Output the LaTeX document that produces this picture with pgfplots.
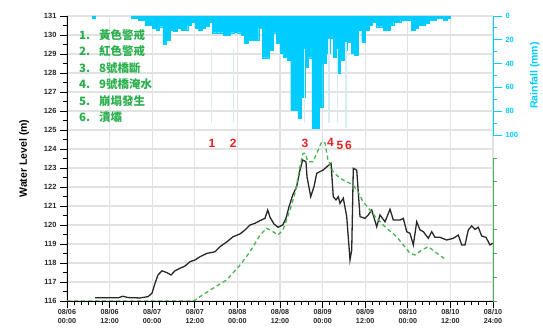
\documentclass[border=0pt]{standalone}
\usepackage{pgfplots}
\pgfplotsset{compat=1.18}
\usepackage{fontspec}
\setmainfont{Liberation Sans}
\newfontfamily\cjk{Noto Sans CJK TC}
\definecolor{rain}{RGB}{0,204,255}
\definecolor{lgreen}{RGB}{70,180,80}
\definecolor{legtext}{RGB}{40,175,75}
\definecolor{gridc}{RGB}{226,226,226}
\definecolor{evred}{RGB}{235,30,35}
\definecolor{evline}{RGB}{212,236,242}
\definecolor{wl}{RGB}{40,40,40}

\begin{document}
\begin{tikzpicture}[x=1pt,y=1pt]
\useasboundingbox (0,0) rectangle (543,329);

% ---------- main water level axis ----------
\begin{axis}[
  at={(67pt,28pt)}, anchor=south west, scale only axis,
  width=426pt, height=285pt,
  xmin=0, xmax=120, ymin=116, ymax=131,
  axis x line*=bottom, axis y line*=left,
  axis line style={black, line width=0.8pt},
  xtick={0,12,...,120},
  xticklabels={{08/06\\00:00},{08/06\\12:00},{08/07\\00:00},{08/07\\12:00},{08/08\\00:00},{08/08\\12:00},{08/09\\00:00},{08/09\\12:00},{08/10\\00:00},{08/10\\12:00},{08/10\\24:00}},
  xticklabel style={align=center, font=\bfseries\fontsize{7.2}{8.6}\selectfont, text=black!85, inner sep=1pt},
  minor x tick num=5,
  ytick={116,...,131}, minor y tick num=1,
  yticklabel style={font=\bfseries\fontsize{7.5}{8}\selectfont, text=black!85},
  /pgf/number format/assume math mode=true,
  grid=major, major grid style={gridc, line width=1.2pt},
  tick align=outside, major tick length=7pt, minor tick length=4pt,
  tick style={black, line width=0.7pt},
  ylabel={Water Level (m)},
  ylabel shift=8pt,
  ylabel style={font=\bfseries\fontsize{10.5}{12}\selectfont},
]
% black water level
\addplot[wl, line width=1.3pt] coordinates {
(7.89,116.17) (14.45,116.17) (15.77,116.25) (17.18,116.18) (20.56,116.16) (22.82,116.23)
(23.94,116.41) (24.79,116.93) (25.63,117.37) (26.76,117.59) (28.17,117.49) (29.30,117.37)
(30.42,117.59) (31.83,117.72) (33.24,117.84) (34.65,118.07) (36.06,118.16) (37.46,118.33)
(39.44,118.51) (41.69,118.59) (43.10,118.86) (45.07,119.12) (46.76,119.38) (48.73,119.53)
(50.14,119.74) (51.55,120.00) (52.96,120.09) (54.37,120.23) (55.77,120.35) (56.54,120.79)
(57.18,120.41) (58.31,120.05) (59.44,119.88) (60.76,120.00) (61.69,120.35) (62.54,120.96)
(63.58,121.58) (64.70,122.02) (65.63,122.89) (66.39,123.42) (67.32,123.33) (67.61,122.54)
(68.65,121.49) (69.58,122.02) (70.34,122.72) (72.11,122.89) (74.37,123.25) (75.01,121.49)
(75.77,121.32) (76.42,121.49) (76.90,121.14) (77.83,121.41) (78.79,120.44) (79.72,118.16)
(80.20,118.68) (80.65,122.98) (81.61,122.89) (82.54,120.44) (83.94,120.35) (84.87,120.53)
(85.83,120.79) (87.24,119.91) (88.17,120.53) (89.58,120.17) (90.99,120.83) (91.92,120.26)
(93.80,120.26) (94.73,120.35) (95.69,119.65) (96.62,119.56) (97.55,118.95) (98.51,120.17)
(99.44,119.74) (100.37,119.65) (101.77,119.30) (102.73,119.65) (103.66,119.35) (105.07,119.35)
(106.96,119.21) (108.82,119.30) (110.23,119.47) (111.18,118.95) (112.11,118.95) (113.04,119.74)
(114.00,119.95) (114.93,119.77) (115.86,119.88) (116.82,119.42) (118.03,119.35) (119.15,118.95)
(119.92,119.04)
};
% green dashed
\addplot[lgreen, line width=1.3pt, dash pattern=on 4pt off 3pt] coordinates {
(0,116) (35.2,116) (36.06,116.05) (37.46,116.23) (41.13,116.67) (44.99,117.11) (48.73,117.89)
(51.55,118.59) (54.37,119.47) (56.25,119.83) (58.03,119.65) (59.44,119.47) (60.85,119.74)
(62.82,120.79) (64.23,121.67) (65.63,123.07) (66.48,123.77) (67.04,123.77) (67.89,123.33)
(69.30,123.33) (70.34,123.77) (71.75,124.38) (72.68,124.32) (73.52,123.42) (74.93,122.81)
(76.90,122.46) (78.79,122.28) (80.56,122.11) (81.97,121.75) (83.38,121.23) (85.35,120.79)
(87.24,120.35) (89.58,119.91) (92.87,119.38) (95.21,118.84) (96.62,118.51) (98.03,118.42)
(99.92,118.68) (101.77,118.86) (103.66,118.59) (105.55,118.33) (106.96,118.16)
};
% event numbers
\begin{scope}[every node/.style={text=evred, font=\bfseries\fontsize{12}{13}\selectfont, inner sep=0pt}]
\node at (axis cs:40.8,124.3) {1};
\node at (axis cs:46.8,124.3) {2};
\node at (axis cs:67.0,124.3) {3};
\node at (axis cs:74.2,124.35) {4};
\node at (axis cs:76.9,124.2) {5};
\node at (axis cs:79.3,124.2) {6};
\end{scope}
\end{axis}

% ---------- rainfall axis ----------
\begin{axis}[
  at={(67pt,313pt)}, anchor=north west, scale only axis,
  width=426pt, height=119pt,
  xmin=0, xmax=120, ymin=0, ymax=100, y dir=reverse,
  axis x line=none, axis y line*=right,
  y axis line style={rain, line width=0.8pt},
  ytick={0,20,...,100}, minor y tick num=1,
  tick align=outside, major tick length=9pt, minor tick length=4pt,
  y tick style={rain, line width=0.8pt},
  yticklabel style={text=rain, font=\bfseries\fontsize{7.5}{8}\selectfont},
  /pgf/number format/assume math mode=true,
  ylabel={Rainfall (mm)},
  ylabel shift=5pt,
  ylabel style={text=rain, font=\bfseries\fontsize{10.5}{12}\selectfont},
]
\addplot[ybar, bar width=1, bar shift=0, fill=rain, draw=rain, line width=0.2pt] coordinates {
(7.5,1.5) (18.5,1.5) (19.5,2) (20.5,3.4) (21.5,3.4) (22.5,7.6) (23.5,7.6) (24.5,10) (25.5,12)
(26.5,9) (27.5,23.5) (28.5,20) (29.5,12) (30.5,13) (31.5,10) (32.5,12) (33.5,12) (34.5,7.6)
(35.5,5) (36.5,10) (37.5,12) (38.5,10) (39.5,8.4) (40.5,5) (41.5,14) (42.5,14) (43.5,14)
(44.5,16) (45.5,16) (46.5,14) (47.5,13.4) (48.5,14) (49.5,16) (50.5,22.7) (51.5,20) (52.5,20)
(53.5,20) (54.5,10) (55.5,35) (56.5,35) (57.5,28.6) (58.5,14) (59.5,22.7) (60.5,31) (61.5,34.5)
(62.5,37) (63.5,79) (64.5,79) (65.5,85.7) (66.5,68) (67.5,43) (68.5,35) (69.5,94) (70.5,94)
(71.5,76.5) (72.5,39.5) (73.5,31) (74.5,18.5) (75.5,34.5) (76.5,48) (77.5,37) (78.5,28.6)
(79.5,22) (80.5,31) (81.5,33) (82.5,11.8) (83.5,22) (84.5,11.8) (85.5,7.6) (86.5,5) (87.5,9)
(88.5,9) (89.5,11.8) (90.5,11.8) (91.5,7.6) (92.5,5) (93.5,5) (94.5,3.4) (95.5,3.4) (96.5,3.4)
(97.5,11.8) (98.5,10) (99.5,7.6) (100.5,7.6) (101.5,6) (102.5,3.4) (103.5,3.4) (104.5,1.7)
(105.5,1.7) (106.5,3.4) (107.5,1.7)
};
% event marker lines
\addplot[evline, line width=1.2pt] coordinates {(40.8,28) (40.8,90)};
\addplot[evline, line width=1.2pt] coordinates {(46.8,28) (46.8,90)};
\addplot[evline, line width=1.2pt] coordinates {(67.0,28) (67.0,90)};
\addplot[evline, line width=1.2pt] coordinates {(73.8,19) (73.8,90)};
\addplot[evline, line width=1.2pt] coordinates {(76.3,28) (76.3,90)};
\addplot[evline, line width=1.2pt] coordinates {(78.6,22) (78.6,94)};
\end{axis}

% ---------- green secondary axis ----------
\begin{axis}[
  at={(67pt,28pt)}, anchor=south west, scale only axis,
  width=426pt, height=143pt,
  xmin=0, xmax=120, ymin=0, ymax=6,
  axis x line=none, axis y line*=right,
  y axis line style={lgreen, line width=0.8pt},
  ytick={0,...,6}, yticklabels={},
  tick align=outside, major tick length=4pt,
  y tick style={lgreen, line width=0.8pt},
]
\addplot[draw=none] coordinates {(0,0)};
\end{axis}

% ---------- legend text ----------
\begin{scope}[every node/.style={anchor=west, text=legtext, font=\cjk\bfseries\fontsize{11.5}{12}\selectfont, inner sep=0pt}]
\node at (79,294) {1.};   \node at (99,294) {黃色警戒};
\node at (79,277.5) {2.}; \node at (99,277.5) {紅色警戒};
\node at (79,261) {3.};   \node at (99,261) {8號橋斷};
\node at (79,244.5) {4.}; \node at (99,244.5) {9號橋淹水};
\node at (79,228) {5.};   \node at (99,228) {崩塌發生};
\node at (79,211.5) {6.}; \node at (99,211.5) {潰壩};
\end{scope}
\end{tikzpicture}
\end{document}
